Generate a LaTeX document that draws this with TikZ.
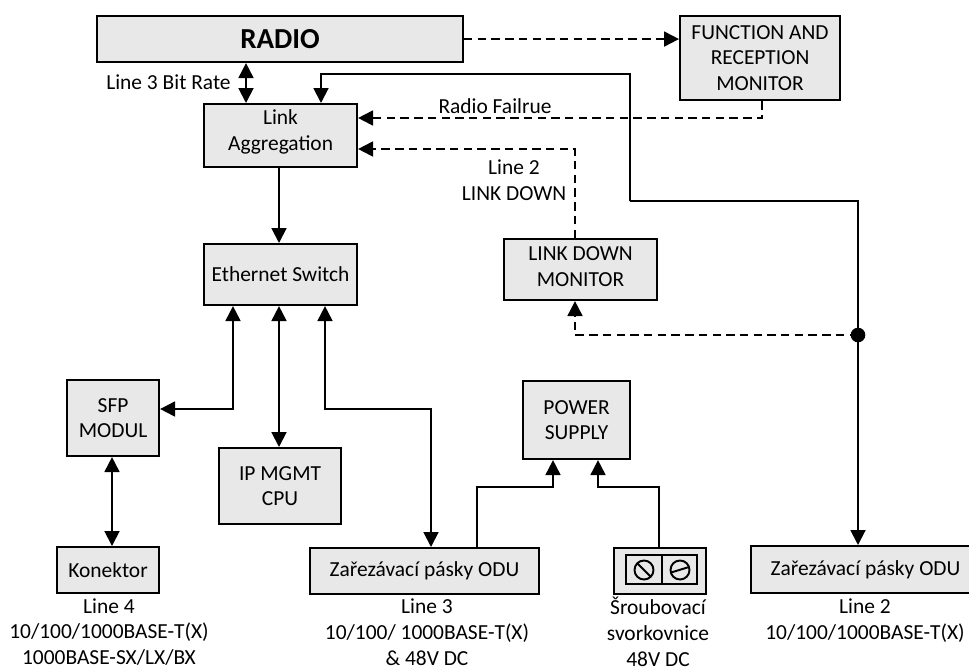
\documentclass[tikz,border=0pt]{standalone}
\usepackage{fontspec}
\setmainfont{Carlito}
\usetikzlibrary{arrows.meta, positioning, calc}
\definecolor{boxgray}{HTML}{E8E8E8}

\tikzset{
  block/.style={draw=black, fill=boxgray, line width=1.2pt, align=center, font=\fontsize{12.2}{14.7}\selectfont, inner sep=0pt, anchor=north west},
  caption/.style={align=center, font=\fontsize{12.2}{14.7}\selectfont, inner sep=0pt},
  conn/.style={draw=black, line width=1.1pt},
  dconn/.style={conn, dash pattern=on 4.8pt off 3pt},
  screw/.style={draw=black, line width=1.1pt},
}

\begin{document}
\begin{tikzpicture}[x=0.02cm, y=-0.02cm, >={Triangle[length=8.5pt, width=8.5pt]}]
\useasboundingbox (0,0) rectangle (969,670);

% Blocks
\node[block, minimum width=7.32cm, minimum height=0.92cm, font=\fontsize{16.5}{20}\selectfont\bfseries] (radio) at (96,15) {RADIO};
\node[block, minimum width=3.2cm, minimum height=1.68cm] (monitor) at (679,15) {FUNCTION AND\\RECEPTION\\MONITOR};
\node[block, minimum width=3.06cm, minimum height=1.26cm, text depth=6pt] (linkagg) at (203,103) {Link\\Aggregation};
\node[block, minimum width=3.06cm, minimum height=1.22cm] (switch) at (203,243) {Ethernet Switch};
\node[block, minimum width=3.06cm, minimum height=1.22cm, text depth=3.4pt] (linkdown) at (503,238) {LINK DOWN\\MONITOR};
\node[block, minimum width=1.84cm, minimum height=1.52cm] (sfp) at (66,379) {SFP\\MODUL};
\node[block, minimum width=2.44cm, minimum height=1.52cm] (cpu) at (218,447) {IP MGMT\\CPU};
\node[block, minimum width=2.14cm, minimum height=1.56cm] (power) at (522,380) {POWER\\SUPPLY};
\node[block, minimum width=2.04cm, minimum height=0.92cm] (konektor) at (56,546) {Konektor};
\node[block, minimum width=4.58cm, minimum height=0.92cm] (odua) at (309,547) {Zařezávací pásky ODU};
\node[block, minimum width=4.58cm, minimum height=0.94cm] (odub) at (750,545) {Zařezávací pásky ODU};
\node[block, minimum width=1.84cm, minimum height=0.92cm] (svorka) at (613,547) {};

% Terminal block
\draw[screw] (626,555) rectangle (697,584);
\draw[screw] (662,555) -- (662,584);
\draw[screw] (644,570) circle (9.5);
\draw[screw] (637,563) -- (651,577);
\draw[screw] (680,570) circle (9.5);
\draw[screw] (671,572.5) -- (689,567);

% Routing points
\coordinate (junction) at (858,335);
\coordinate (ratebus) at (246,0);
\coordinate (outbus) at (321,74);
\coordinate (outturn) at (630,201);
\coordinate (failbus) at (762,118);
\coordinate (downbus) at (575,149);
\coordinate (sfpbus) at (233,409);
\coordinate (cpubus) at (279,0);
\coordinate (odubus) at (325,409);
\coordinate (odudrop) at (431,409);
\coordinate (konbus) at (112,0);
\coordinate (powa) at (553,487);
\coordinate (powb) at (598,487);
\coordinate (feeda) at (477,487);
\coordinate (feedb) at (659,487);

% Connectors
\draw[conn, <->] (radio.south -| ratebus) -- (linkagg.north -| ratebus);
\draw[dconn, ->] (radio.east) -- (monitor.west |- radio.east);
\draw[conn, ->] (outturn) -- (outturn |- outbus) -- (outbus) -- (linkagg.north -| outbus);
\draw[conn] (outturn) -- (outturn -| junction) -- (junction);
\draw[conn, ->] (junction) -- (odub.north -| junction);
\fill (junction) circle (7.3);
\draw[dconn, ->] (monitor.south -| failbus) -- (failbus) -- (linkagg.east |- failbus);
\draw[dconn, ->] (linkdown.north -| downbus) -- (downbus) -- (linkagg.east |- downbus);
\draw[dconn, ->] (junction) -- (junction -| downbus) -- (linkdown.south -| downbus);
\draw[conn, ->] (linkagg.south -| cpubus) -- (switch.north -| cpubus);
\draw[conn, <->] (switch.south -| sfpbus) -- (sfpbus) -- (sfp.east |- sfpbus);
\draw[conn, <->] (switch.south -| cpubus) -- (cpu.north -| cpubus);
\draw[conn, <->] (switch.south -| odubus) -- (odubus) -- (odudrop) -- (odua.north -| odudrop);
\draw[conn, <->] (sfp.south -| konbus) -- (konektor.north -| konbus);
\draw[conn, ->] (odua.north -| feeda) -- (feeda) -- (powa) -- (power.south -| powa);
\draw[conn, ->] (svorka.north -| feedb) -- (feedb) -- (powb) -- (power.south -| powb);

% Labels
\node[caption, anchor=east] (rate) at (231,82) {Line 3 Bit Rate};
\node[caption] (failure) at (495,106.5) {Radio Failrue};
\node[caption] (downlabel) at (514,180) {Line 2\\LINK DOWN};
\node[caption] (linefour) at (109,632) {Line 4\\10/100/1000BASE-T(X)\\1000BASE-SX/LX/BX};
\node[caption] (linethree) at (427,632) {Line 3\\10/100/ 1000BASE-T(X)\\\& 48V DC};
\node[caption] (screwlabel) at (658,632) {Šroubovací\\svorkovnice\\48V DC};
\node[caption] (linetwo) at (865,621) {Line 2\\10/100/1000BASE-T(X)};
\end{tikzpicture}
\end{document}
